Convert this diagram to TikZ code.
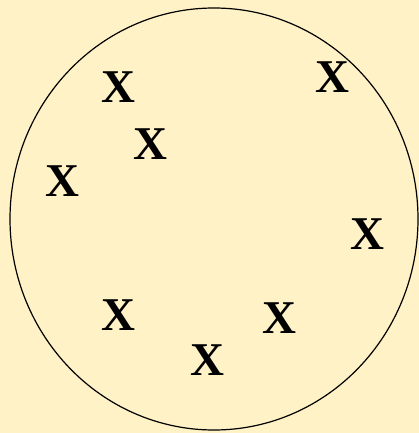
\documentclass[tikz,border=0pt]{standalone}
\usepackage{fontspec}
\setmainfont{Liberation Serif}
\definecolor{bg}{HTML}{FFF2C6}
\begin{document}
\begin{tikzpicture}[x=1pt,y=-1pt,
  xmark/.style={font=\fontsize{47}{47}\selectfont\bfseries, inner sep=0pt, anchor=center}]
\useasboundingbox[fill=bg] (0,0) rectangle (419,433);
\draw[line width=1.2pt, fill=bg] (214,219) ellipse [x radius=204, y radius=211];
\node[xmark] (x1) at (118,87) {X};
\node[xmark] (x2) at (332,77) {X};
\node[xmark] (x3) at (150,144) {X};
\node[xmark] (x4) at (62,181) {X};
\node[xmark] (x5) at (367,234) {X};
\node[xmark] (x6) at (118,315) {X};
\node[xmark] (x7) at (279,318) {X};
\node[xmark] (x8) at (207,360) {X};
\end{tikzpicture}
\end{document}
